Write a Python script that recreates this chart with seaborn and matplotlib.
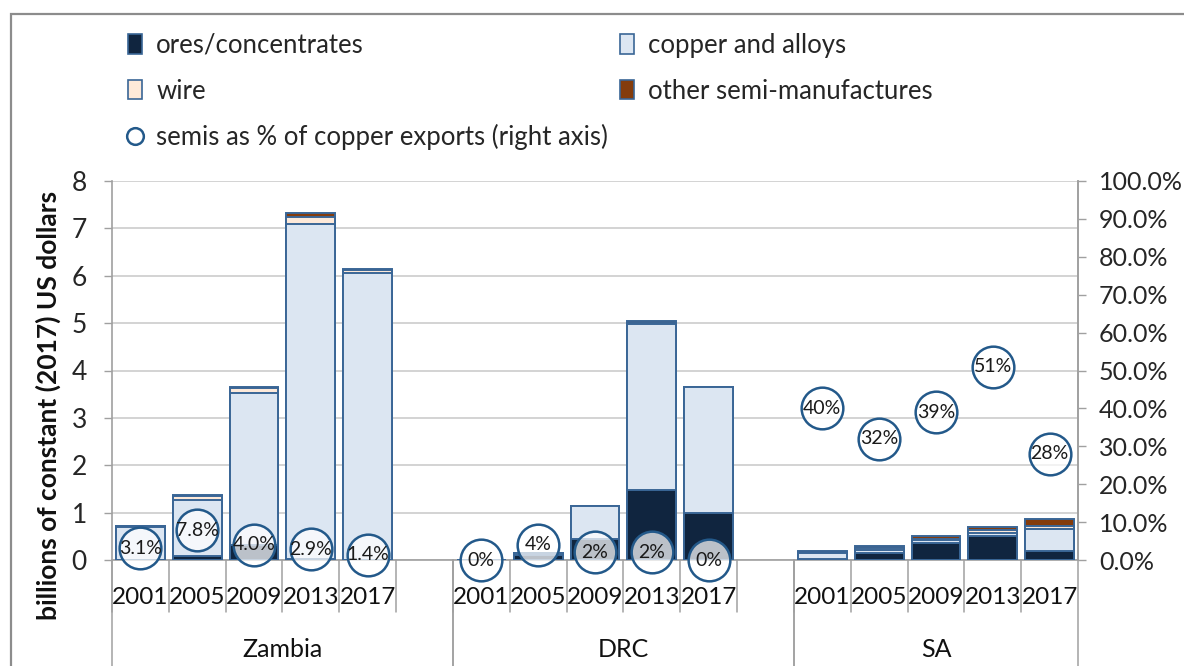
import numpy as np
import pandas as pd
import seaborn as sns
import matplotlib.pyplot as plt
from matplotlib.lines import Line2D
from matplotlib.patches import Patch, Rectangle
from matplotlib.ticker import PercentFormatter, MultipleLocator

# data (billions of constant 2017 US dollars)
countries = ["Zambia", "DRC", "SA"]
years = ["2001", "2005", "2009", "2013", "2017"]

ores = [0.00, 0.08, 0.32, 0.03, 0.01,
        0.00, 0.10, 0.44, 1.48, 0.99,
        0.02, 0.14, 0.36, 0.50, 0.20]
copper = [0.70, 1.19, 3.20, 7.07, 6.04,
          0.00, 0.05, 0.70, 3.50, 2.66,
          0.12, 0.08, 0.06, 0.08, 0.45]
wire = [0.02, 0.08, 0.11, 0.15, 0.07,
        0.00, 0.00, 0.00, 0.02, 0.00,
        0.02, 0.04, 0.03, 0.05, 0.06]
other = [0.00, 0.02, 0.02, 0.07, 0.03,
         0.00, 0.00, 0.00, 0.05, 0.00,
         0.04, 0.04, 0.05, 0.07, 0.15]

# semis as share of copper exports (right axis)
semis = [0.031, 0.078, 0.040, 0.029, 0.014,
         0.0, 0.04, 0.02, 0.02, 0.0,
         0.40, 0.32, 0.39, 0.51, 0.28]
semis_labels = ["3.1%", "7.8%", "4.0%", "2.9%", "1.4%",
                "0%", "4%", "2%", "2%", "0%",
                "40%", "32%", "39%", "51%", "28%"]

C_ORES = "#10253f"
C_COPPER = "#dce6f2"
C_WIRE = "#fde9d9"
C_OTHER = "#843c0c"
C_EDGE = "#3a6696"
C_CIRCLE = "#23598a"
GRID = "#c8c8c8"
AXIS = "#a0a0a0"

sns.set_style("white")
plt.rcParams["font.family"] = ["Lato", "DejaVu Sans"]

# one slot per year, plus a blank slot after Zambia and after DRC
order = []
for i, c in enumerate(countries):
    order += [f"{c} {y}" for y in years]
    if i < len(countries) - 1:
        order.append(f"gap{i}")

df = pd.DataFrame({
    "country": np.repeat(countries, len(years)),
    "year": years * len(countries),
    "ores": ores, "copper": copper, "wire": wire, "other": other,
    "semis": semis, "label": semis_labels,
})
df["key"] = df["country"] + " " + df["year"]
df["pos"] = [order.index(k) for k in df["key"]]
df["cum_copper"] = df["ores"] + df["copper"]
df["cum_wire"] = df["cum_copper"] + df["wire"]
df["cum_other"] = df["cum_wire"] + df["other"]

fig = plt.figure(figsize=(11.84, 6.66), dpi=100)
ax = fig.add_axes([112 / 1184, 1 - 560 / 666, 966 / 1184, 379 / 666])

# stacked bars: draw cumulative totals from the top segment down
for col, colr in [("cum_other", C_OTHER), ("cum_wire", C_WIRE),
                  ("cum_copper", C_COPPER), ("ores", C_ORES)]:
    sns.barplot(data=df, x="key", y=col, order=order, color=colr,
                saturation=1, errorbar=None, width=0.86,
                edgecolor=C_EDGE, linewidth=1.4, ax=ax, zorder=3)

ax.set_xlim(-0.5, len(order) - 0.5)
ax.set_ylim(0, 8)
ax.yaxis.set_major_locator(MultipleLocator(1))
ax.grid(axis="y", color=GRID, linewidth=1.1, zorder=0)
ax.set_axisbelow(True)
ax.set_xlabel("")
ax.set_ylabel("")
ax.set_xticks([])
ax.tick_params(axis="y", direction="out", length=6, width=1, color=AXIS,
               labelsize=19, pad=12, left=True)
ax.spines["top"].set_visible(False)
for s in ["left", "right", "bottom"]:
    ax.spines[s].set_color(AXIS)
    ax.spines[s].set_linewidth(1.2)

# right axis with the circles
ax2 = ax.twinx()
sns.scatterplot(data=df, x="pos", y="semis", ax=ax2, s=900,
                facecolors=(1, 1, 1, 0.72), edgecolors=C_CIRCLE,
                linewidth=1.8, zorder=5, legend=False, clip_on=False)
for _, r in df.iterrows():
    ax2.text(r["pos"], r["semis"], r["label"], ha="center", va="center",
             fontsize=14, color="#1a1a1a", zorder=6)
ax2.set_ylim(0, 1)
ax2.yaxis.set_major_locator(MultipleLocator(0.1))
ax2.yaxis.set_major_formatter(PercentFormatter(xmax=1, decimals=1))
ax2.tick_params(axis="y", direction="out", length=6, width=1, color=AXIS,
                labelsize=18, pad=9, right=True)
ax2.set_ylabel("")
ax2.set_xlabel("")
for s in ["top", "left", "bottom"]:
    ax2.spines[s].set_visible(False)
ax2.spines["right"].set_color(AXIS)
ax2.spines["right"].set_linewidth(1.2)
ax2.set_xlim(-0.5, len(order) - 0.5)

# multi-level category axis
trans = ax.get_xaxis_transform()
spans = []
start = -0.5
for i, c in enumerate(countries):
    end = start + len(years) + (1 if i < len(countries) - 1 else 0)
    spans.append((c, start, end))
    start = end
for c, a, b in spans:
    for j, y in enumerate(years):
        ax.text(a + 0.5 + j, -0.098, y, transform=trans, ha="center",
                va="center", fontsize=17.5, color="#111111")
    for j in range(int(b - a)):
        ax.add_line(Line2D([a + j, a + j], [0, -0.137], transform=trans,
                           color=AXIS, lw=1.1, clip_on=False))
    for x in (a, b):
        ax.add_line(Line2D([x, x], [0, -0.30], transform=trans,
                           color=AXIS, lw=1.1, clip_on=False))
    ax.text((a + b) / 2, -0.235, c, transform=trans, ha="center",
            va="center", fontsize=18, color="#111111")

fig.text(48 / 1184, 1 - 405 / 666, "billions of constant (2017) US dollars",
         rotation=90, ha="center", va="center", fontsize=19,
         fontweight="bold", color="#111111")

# legend
handles = [
    Patch(facecolor=C_ORES, edgecolor=C_EDGE, linewidth=1.2),
    Patch(facecolor=C_WIRE, edgecolor=C_EDGE, linewidth=1.2),
    Line2D([], [], marker="o", linestyle="none", markersize=12,
           markerfacecolor="white", markeredgecolor=C_CIRCLE,
           markeredgewidth=1.8),
    Patch(facecolor=C_COPPER, edgecolor=C_EDGE, linewidth=1.2),
    Patch(facecolor=C_OTHER, edgecolor=C_EDGE, linewidth=1.2),
]
labels = ["ores/concentrates", "wire", "semis as % of copper exports (right axis)",
          "copper and alloys", "other semi-manufactures"]
fig.legend(handles, labels, ncol=2, loc="upper left",
           bbox_to_anchor=(128 / 1184, 1 - 33 / 666), frameon=False,
           fontsize=18.5, handlelength=0.55, handleheight=0.8,
           handletextpad=0.55, labelspacing=0.8, columnspacing=0.45,
           borderaxespad=0, borderpad=0)

# outer chart frame
fig.patches.append(Rectangle((11 / 1184, -0.1), 1.2, 1 - 14 / 666 + 0.1,
                             transform=fig.transFigure, fill=False,
                             edgecolor="#8c8c8c", linewidth=1.6))

fig.savefig("out.png", dpi=100)
